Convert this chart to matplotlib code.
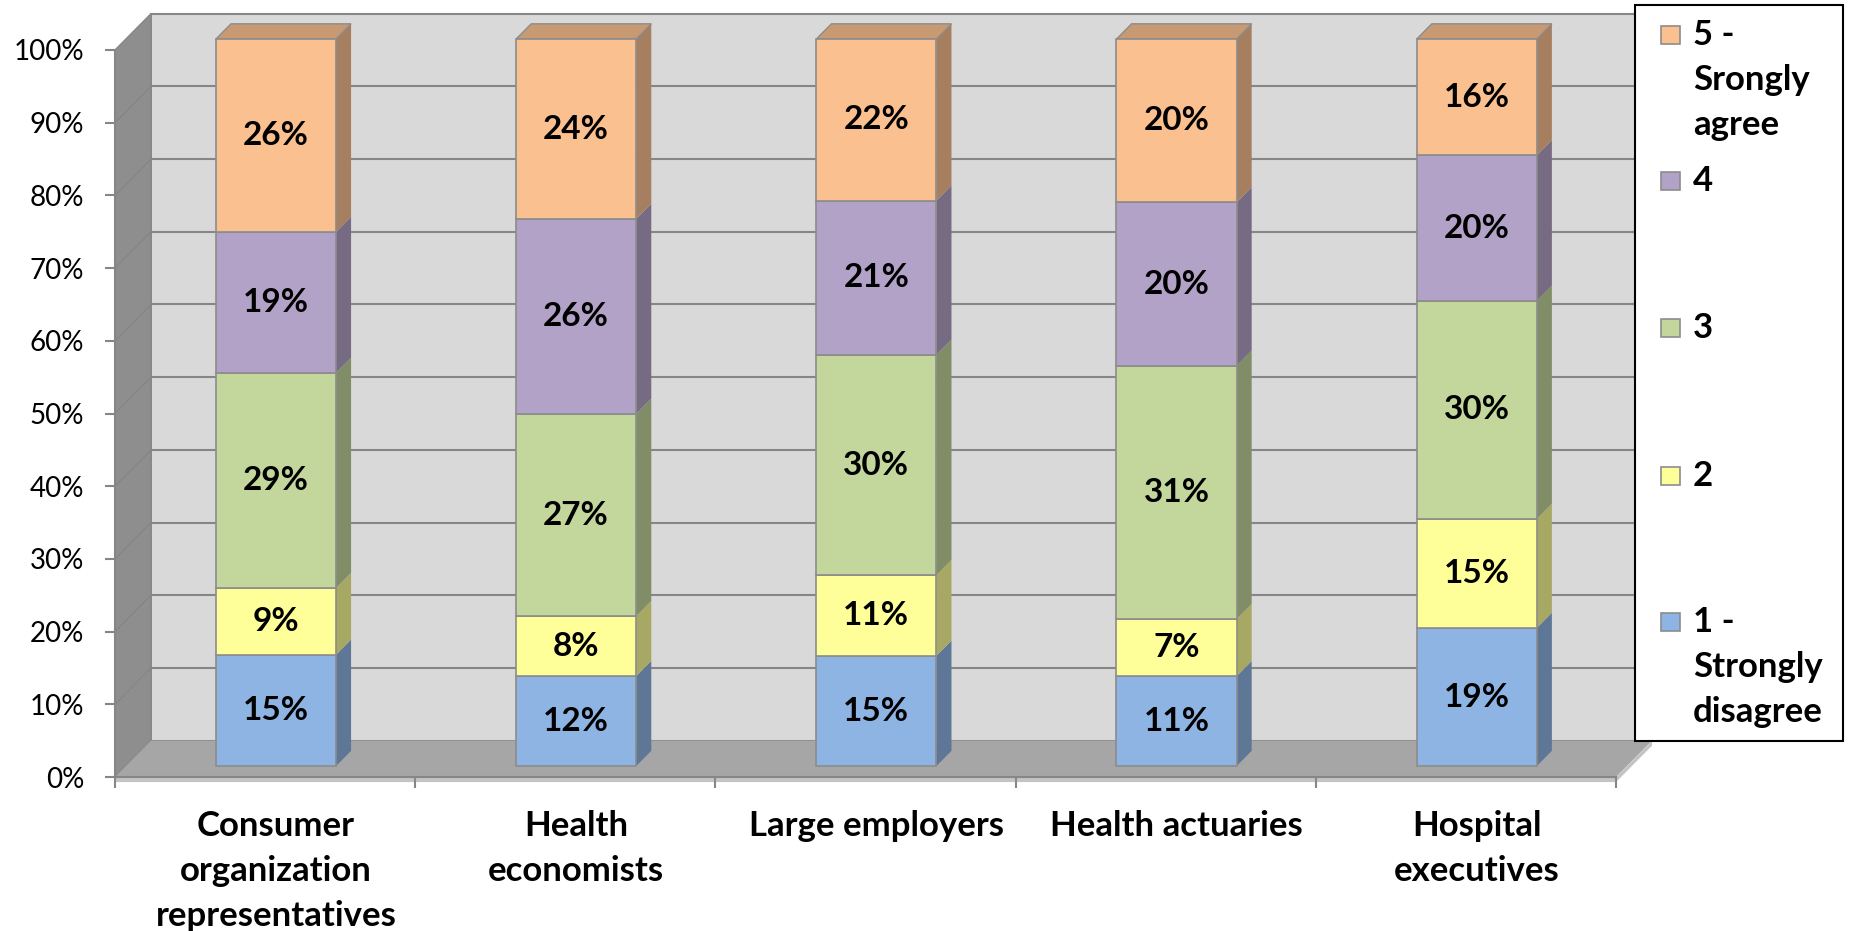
import matplotlib
matplotlib.use("Agg")
import matplotlib.pyplot as plt
import numpy as np
from matplotlib.patches import Polygon, Rectangle

plt.rcParams['font.family'] = ['Lato', 'DejaVu Sans']

# data (labels are the raw percentages, chart is 100% stacked)
categories = ["Consumer\norganization\nrepresentatives", "Health\neconomists",
              "Large employers", "Health actuaries", "Hospital\nexecutives"]
levels = ["1 -\nStrongly\ndisagree", "2", "3", "4", "5 -\nSrongly\nagree"]
strongly_disagree = [15, 12, 15, 11, 19]
rating_2 = [9, 8, 11, 7, 15]
rating_3 = [29, 27, 30, 31, 30]
rating_4 = [19, 26, 21, 20, 20]
strongly_agree = [26, 24, 22, 20, 16]
colors = ["#8EB4E3", "#FFFF99", "#C3D69B", "#B3A2C7", "#FAC090"]
y_ticks = [0, 10, 20, 30, 40, 50, 60, 70, 80, 90, 100]

vals = np.array([strongly_disagree, rating_2, rating_3, rating_4, strongly_agree], dtype=float)
shares = vals / vals.sum(axis=0) * 100

# fake 3d depth (data units)
DX, DY = 0.12, 5.0
F0, F1 = 0.3, 0.72   # bar front / back as fraction of depth
W = 0.40
EDGE = "#8C8C8C"
AXC = "#868686"


def shade(c, k):
    r, g, b = matplotlib.colors.to_rgb(c)
    return (r * k, g * k, b * k)


fig = plt.figure(figsize=(18.5, 9.31), dpi=100)
ax = fig.add_axes([115 / 1850, 1 - 777 / 931, 1501 / 1850, 727 / 931])
ax.set_xlim(-0.5, 4.5)
ax.set_ylim(0, 100)
ax.patch.set_visible(False)

n = len(categories)
x0, x1 = -0.5, n - 0.5

# walls and floor
ax.add_patch(Polygon([(x0 + DX, DY), (x1 + DX, DY), (x1 + DX, 100 + DY), (x0 + DX, 100 + DY)],
                     closed=True, fc="#D9D9D9", ec=AXC, lw=1.2, clip_on=False, zorder=0))
for t in y_ticks:
    ax.plot([x0 + DX, x1 + DX], [t + DY, t + DY], color=AXC, lw=1.5, clip_on=False, zorder=0.5)
ax.add_patch(Polygon([(x0, 0), (x0 + DX, DY), (x0 + DX, 100 + DY), (x0, 100)],
                     closed=True, fc="#8E8E8E", ec=AXC, lw=1, clip_on=False, zorder=1))
for t in y_ticks[1:-1]:
    ax.plot([x0, x0 + DX], [t, t + DY], color="#848484", lw=0.8, clip_on=False, zorder=1.1)
ax.add_patch(Polygon([(x0, 0), (x1, 0), (x1 + DX, DY), (x0 + DX, DY)],
                     closed=True, fc="#A6A6A6", ec="none", clip_on=False, zorder=1))
ax.add_patch(Polygon([(x0, -0.7), (x1, -0.7), (x1 + DX, DY - 0.7), (x1 + DX, DY), (x1, 0), (x0, 0)],
                     closed=True, fc="#C4C4C4", ec="none", clip_on=False, zorder=1))

# bars
idx = np.arange(n)
xf = idx + F0 * DX
base = np.zeros(n)
ddx, ddy = (F1 - F0) * DX, (F1 - F0) * DY
for j in range(len(levels)):
    h = shares[j]
    b0 = base + F0 * DY
    ax.bar(xf, h, width=W, bottom=b0, color=colors[j], edgecolor=EDGE, lw=1.2,
           zorder=3, clip_on=False)
    for i in range(n):
        xr = xf[i] + W / 2
        ax.add_patch(Polygon([(xr, b0[i]), (xr + ddx, b0[i] + ddy), (xr + ddx, b0[i] + h[i] + ddy),
                              (xr, b0[i] + h[i])], closed=True, fc=shade(colors[j], 0.66),
                             ec="none", zorder=2.5, clip_on=False))
        if j == len(levels) - 1:
            xl = xf[i] - W / 2
            tp = b0[i] + h[i]
            ax.add_patch(Polygon([(xl, tp), (xr, tp), (xr + ddx, tp + ddy), (xl + ddx, tp + ddy)],
                                 closed=True, fc=shade(colors[j], 0.8), ec=EDGE, lw=1.0,
                                 zorder=2.5, clip_on=False))
        ax.text(xf[i], b0[i] + h[i] / 2, f"{int(vals[j, i])}%", ha="center", va="center",
                fontsize=24, fontweight="bold", zorder=4)
    base = base + h

# axes
for s in ["top", "right", "bottom"]:
    ax.spines[s].set_visible(False)
ax.spines["left"].set_color(AXC)
ax.spines["left"].set_linewidth(1.5)
ax.set_yticks(y_ticks)
ax.set_yticklabels([f"{t}%" for t in y_ticks], fontsize=20)
ax.tick_params(axis="y", colors=AXC, labelcolor="black", length=7, width=1.5, pad=15)
ax.set_xticks(np.arange(x0, x1 + 0.01, 1))
ax.set_xticklabels([])
ax.tick_params(axis="x", which="major", colors=AXC, length=8, width=1.5)
ax.set_xticks(xf, minor=True)
ax.set_xticklabels(categories, minor=True, fontsize=25, fontweight="bold", linespacing=1.5)
ax.tick_params(axis="x", which="minor", length=0, pad=24)
ax.plot([x0, x1], [0, 0], color=AXC, lw=1.5, clip_on=False, zorder=1.2)

# legend box
def fx(px):
    return px / 1850


def fy(py):
    return 1 - py / 931


fig.patches.append(Rectangle((fx(1635), fy(741)), fx(208), 736 / 931, transform=fig.transFigure,
                             fc="white", ec="black", lw=1.5, zorder=5))
legend_rows = [622, 476, 328, 181, 35]
line_step = 45
for j in range(len(levels) - 1, -1, -1):
    yc = legend_rows[j]
    fig.patches.append(Rectangle((fx(1661), fy(yc + 9)), fx(19), 18 / 931, transform=fig.transFigure,
                                 fc=colors[j], ec="#8C8C8C", lw=1.2, zorder=6))
    for k, line in enumerate(levels[j].split("\n")):
        fig.text(fx(1693), fy(yc + k * line_step), line, ha="left", va="center", fontsize=25,
                 fontweight="bold", zorder=7)

fig.savefig("out.png", dpi=100)
